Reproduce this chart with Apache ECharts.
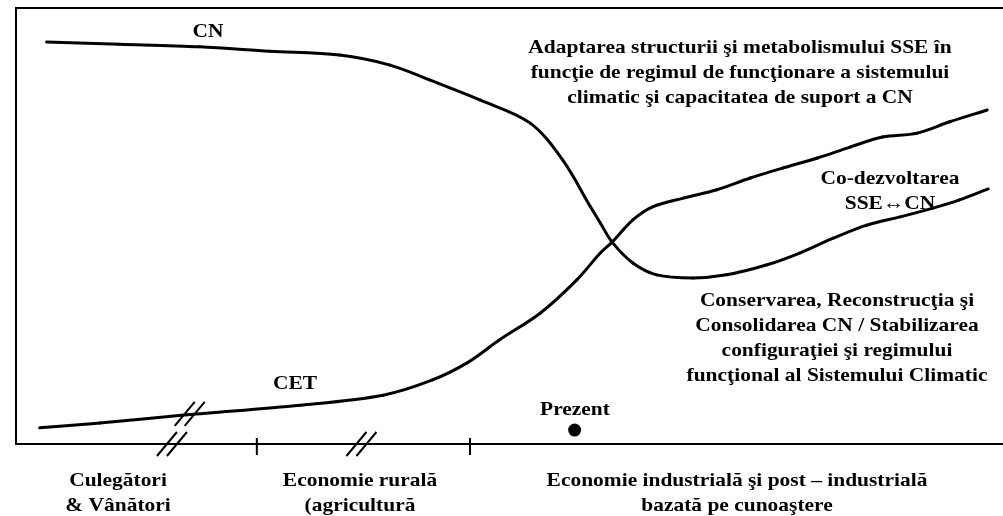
<!DOCTYPE html>
<html>
<head>
<meta charset="utf-8">
<script src="https://cdn.jsdelivr.net/npm/echarts@6/dist/echarts.min.js"></script>
<style>
html,body{margin:0;padding:0;background:#fff;}
#chart{width:1003px;height:516px;}
</style>
</head>
<body>
<div id="chart"></div>
<script>
// Values (x: time 0-100, y: level 0-100)
const cnX = [3.1, 10.5, 18.6, 25.7, 32.8, 37.9, 41.9, 47.0, 52.1, 55.4, 58.2, 59.2, 60.4, 62.5, 64.9, 68.6, 72.0, 76.1, 79.4, 82.8, 86.2, 89.6, 92.9, 95.6, 98.5];
const cnY = [92.2, 91.7, 91.1, 90.1, 89.2, 86.9, 83.5, 78.9, 73.6, 65.1, 54.4, 50.7, 46.3, 41.5, 38.8, 38.1, 38.8, 41.1, 43.8, 47.2, 50.2, 52.1, 54.1, 56.0, 58.5];
const cetX = [2.4, 8.5, 17.3, 28.8, 37.2, 42.2, 45.7, 49.0, 53.1, 56.8, 59.2, 60.4, 62.5, 64.5, 67.6, 71.0, 74.4, 77.7, 81.2, 84.5, 87.8, 91.3, 94.6, 98.4];
const cetY = [3.7, 4.8, 6.7, 8.9, 11.2, 14.7, 18.6, 23.9, 30.0, 37.6, 43.8, 46.3, 51.4, 54.4, 56.4, 58.3, 61.0, 63.3, 65.6, 68.1, 70.4, 71.3, 73.9, 76.6];
const periodTicks = [24.4, 46.0];
const axisBreaks = [15.8, 35.0];
const curveBreaks = [[17.6, 6.9]];
const present = [[56.6, 3.2]];

const lineLabels = ['CN', 'CET'];
const topNote = ['Adaptarea structurii şi metabolismului SSE în', 'funcţie de regimul de funcţionare a sistemului', 'climatic şi capacitatea de suport a CN'];
const coNote = ['Co-dezvoltarea', 'SSE↔CN'];
const consNote = ['Conservarea, Reconstrucţia şi', 'Consolidarea CN / Stabilizarea', 'configuraţiei şi regimului', 'funcţional al Sistemului Climatic'];
const presentLabel = 'Prezent';
const periods = [['Culegători', '& Vânători'], ['Economie rurală', '(agricultură'], ['Economie industrială şi post – industrială', 'bazată pe cunoaştere']];

const zip = (a, b) => a.map((v, i) => [v, b[i]]);
const FONT = 'bold 19.5px "Liberation Serif", "Times New Roman", serif';

const chart = echarts.init(document.getElementById('chart'), null, {renderer: 'canvas'});

function txt(lines, x, y) {
  return {
    type: 'text', x: x, y: y, scaleX: 1.1,
    style: {text: lines.join('\n'), font: FONT, fill: '#000', align: 'center', verticalAlign: 'top', lineHeight: 25}
  };
}

function slashPair(cx, cy) {
  const children = [-5, 5].map(off => ({
    type: 'line',
    shape: {x1: cx + off - 10, y1: cy + 12, x2: cx + off + 10, y2: cy - 12},
    style: {stroke: '#000', lineWidth: 2}
  }));
  return {type: 'group', children: children};
}

// smooth curve through all points of the series, drawn once (at the first item)
function smoothCurve(params, api) {
  if (params.dataIndexInside !== 0) return null;
  const n = params.dataInsideLength;
  const pts = [];
  for (let i = 0; i < n; i++) pts.push(api.coord([api.value(0, i), api.value(1, i)]));
  const dist = (a, b) => Math.hypot(b[0] - a[0], b[1] - a[1]);
  const tan = [];
  for (let i = 0; i < n; i++) {
    if (i === 0 || i === n - 1) {
      const a = pts[i === 0 ? 0 : n - 2], b = pts[i === 0 ? 1 : n - 1];
      const d = dist(a, b);
      tan.push([(b[0] - a[0]) / d, (b[1] - a[1]) / d]);
    } else {
      const d = dist(pts[i - 1], pts[i]) + dist(pts[i], pts[i + 1]);
      tan.push([(pts[i + 1][0] - pts[i - 1][0]) / d, (pts[i + 1][1] - pts[i - 1][1]) / d]);
    }
  }
  const children = [];
  for (let i = 0; i < n - 1; i++) {
    const a = pts[i], b = pts[i + 1], L = dist(a, b) / 3;
    children.push({
      type: 'bezierCurve',
      shape: {x1: a[0], y1: a[1], x2: b[0], y2: b[1],
              cpx1: a[0] + tan[i][0] * L, cpy1: a[1] + tan[i][1] * L,
              cpx2: b[0] - tan[i + 1][0] * L, cpy2: b[1] - tan[i + 1][1] * L},
      style: {stroke: '#000', lineWidth: 3, fill: null, lineCap: 'round'}
    });
  }
  return {type: 'group', children: children};
}

const option = {
  animation: false,
  backgroundColor: '#fff',
  grid: {left: 16, right: 0, top: 8, bottom: 72, containLabel: false},
  xAxis: [
    {type: 'value', min: 0, max: 100, position: 'bottom',
     axisLine: {show: true, onZero: false, lineStyle: {color: '#000', width: 2}},
     axisTick: {show: false}, axisLabel: {show: false}, splitLine: {show: false}},
    {type: 'value', min: 0, max: 100, position: 'top',
     axisLine: {show: true, onZero: false, lineStyle: {color: '#000', width: 2}},
     axisTick: {show: false}, axisLabel: {show: false}, splitLine: {show: false}}
  ],
  yAxis: {type: 'value', min: 0, max: 100,
    axisLine: {show: true, onZero: false, lineStyle: {color: '#000', width: 2}},
    axisTick: {show: false}, axisLabel: {show: false}, splitLine: {show: false}},
  series: [
    {name: lineLabels[0], type: 'custom', data: zip(cnX, cnY), renderItem: smoothCurve, clip: false},
    {name: lineLabels[1], type: 'custom', data: zip(cetX, cetY), renderItem: smoothCurve, clip: false},
    {type: 'scatter', data: present, symbol: 'circle', symbolSize: 13, itemStyle: {color: '#000', opacity: 1}},
    {type: 'custom', data: periodTicks.map(v => [v]), clip: false,
     renderItem: (params, api) => {
       const p = api.coord([api.value(0), 0]);
       return {type: 'line', shape: {x1: p[0], y1: p[1] - 6, x2: p[0], y2: p[1] + 11},
               style: {stroke: '#000', lineWidth: 2}};
     }},
    {type: 'custom', data: axisBreaks.map(v => [v]), clip: false,
     renderItem: (params, api) => {
       const p = api.coord([api.value(0), 0]);
       return slashPair(p[0], p[1]);
     }},
    {type: 'custom', data: curveBreaks, clip: false,
     renderItem: (params, api) => {
       const p = api.coord([api.value(0), api.value(1)]);
       return slashPair(p[0], p[1]);
     }}
  ],
  graphic: [
    txt([lineLabels[0]], 208, 19),
    txt([lineLabels[1]], 295, 371),
    txt(topNote, 740, 35),
    txt(coNote, 890, 166),
    txt(consNote, 837, 288),
    txt([presentLabel], 575, 397),
    txt(periods[0], 118, 468),
    txt(periods[1], 360, 468),
    txt(periods[2], 737, 468)
  ]
};
chart.setOption(option);
</script>
</body>
</html>
